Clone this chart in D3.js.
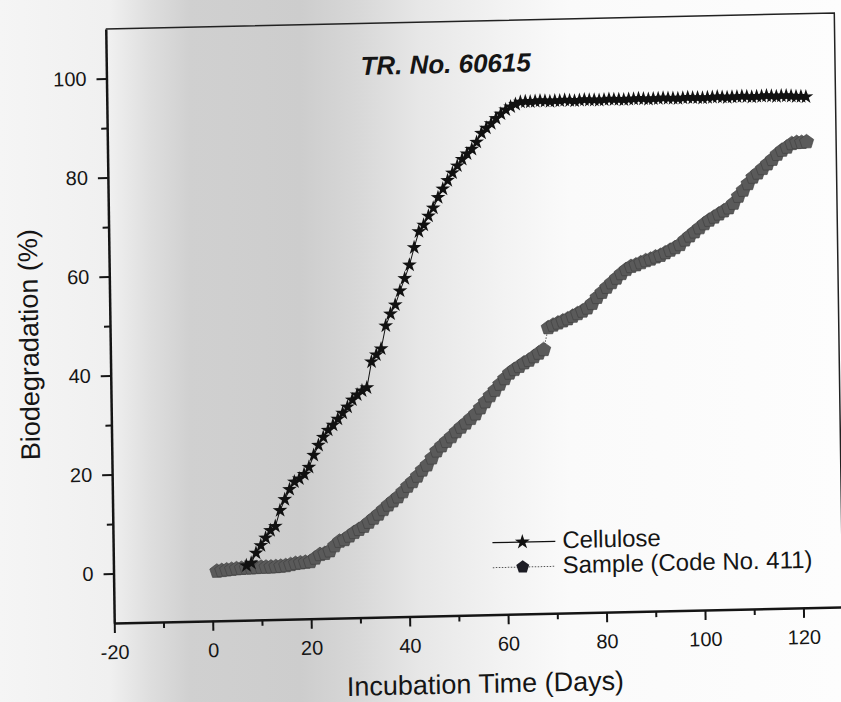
<!DOCTYPE html>
<html>
<head>
<meta charset="utf-8">
<script src="https://cdn.jsdelivr.net/npm/d3@7"></script>
<style>
body { margin: 0; background: #fff; }
/* grey shading of the scanned page */
#chart {
	width: 841px; height: 702px;
	background: linear-gradient(to right, #f5f5f5 0px, #f0f0f0 110px, #dedede 150px, #d0d0d0 190px,
		#cdcdcd 300px, #d7d7d7 355px, #e7e7e7 420px, #f3f3f3 505px, #fafafa 570px, #fdfdfd 841px);
}
svg { display: block; }
svg text { font-family: "Liberation Sans", Arial, sans-serif; fill: #151515; }
.axis text { font-size: 20px; }
.axis .domain { stroke: #151515; stroke-width: 2.5; }
.axis .tick line { stroke: #151515; stroke-width: 2; }
</style>
</head>
<body>
<div id="chart"></div>
<script>
// incubation day of each reading
var sample_days = [
  1, 2, 3, 4, 5, 6, 7, 8, 9, 10,
  11, 12, 13, 14, 15, 16, 17, 18, 19, 20,
  21, 22, 23, 24, 25, 26, 27, 28, 29, 30,
  31, 32, 33, 34, 35, 36, 37, 38, 39, 40,
  41, 42, 43, 44, 45, 46, 47, 48, 49, 50,
  51, 52, 53, 54, 55, 56, 57, 58, 59, 60,
  61, 62, 63, 64, 65, 66, 67, 68, 69, 70,
  71, 72, 73, 74, 75, 76, 77, 78, 79, 80,
  81, 82, 83, 84, 85, 86, 87, 88, 89, 90,
  91, 92, 93, 94, 95, 96, 97, 98, 99, 100,
  101, 102, 103, 104, 105, 106, 107, 108, 109, 110,
  111, 112, 113, 114, 115, 116, 117, 118, 119, 120,
  121, 122
];

// biodegradation (%)
var sample = [
  0.0, 0.1, 0.2, 0.3, 0.4, 0.45, 0.5, 0.5, 0.55, 0.6,
  0.6, 0.6, 0.65, 0.7, 0.8, 1.0, 1.2, 1.3, 1.4, 1.5,
  2.2, 2.9, 3.1, 3.6, 4.6, 5.5, 5.8, 6.5, 7.2, 7.8,
  8.4, 9.2, 10.0, 10.8, 11.7, 12.6, 13.4, 14.2, 15.2, 16.3,
  17.2, 18.3, 19.5, 20.5, 21.9, 23.3, 24.3, 25.2, 26.1, 27.1,
  28.0, 28.8, 29.7, 30.6, 31.8, 33.0, 34.2, 35.3, 36.5, 37.6,
  38.7, 39.4, 40.0, 40.7, 41.2, 41.9, 42.6, 43.3, 47.7, 48.2,
  48.6, 49.0, 49.4, 49.9, 50.4, 50.9, 51.5, 52.4, 53.6, 54.6,
  55.6, 56.5, 57.4, 58.3, 59.1, 59.7, 60.0, 60.4, 60.8, 61.1,
  61.5, 61.8, 62.3, 62.8, 63.3, 63.9, 64.8, 65.6, 66.4, 67.2,
  68.0, 68.7, 69.3, 69.9, 70.5, 71.1, 72.0, 73.4, 74.6, 75.9,
  77.2, 78.0, 78.9, 79.8, 80.7, 81.7, 82.5, 83.1, 83.8, 84.0,
  84.0, 84.1
];

var cellulose_days = [
  7, 8, 9, 10,
  11, 12, 13, 14, 15, 16, 17, 18, 19, 20,
  21, 22, 23, 24, 25, 26, 27, 28, 29, 30,
  31, 32, 33, 34, 35, 36, 37, 38, 39, 40,
  41, 42, 43, 44, 45, 46, 47, 48, 49, 50,
  51, 52, 53, 54, 55, 56, 57, 58, 59, 60,
  61, 62, 63, 64, 65, 66, 67, 68, 69, 70,
  71, 72, 73, 74, 75, 76, 77, 78, 79, 80,
  81, 82, 83, 84, 85, 86, 87, 88, 89, 90,
  91, 92, 93, 94, 95, 96, 97, 98, 99, 100,
  101, 102, 103, 104, 105, 106, 107, 108, 109, 110,
  111, 112, 113, 114, 115, 116, 117, 118, 119, 120,
  121, 122
];

var cellulose = [
  1.0, 1.5, 3.5, 5.0,
  6.5, 8.0, 8.8, 12.0, 14.2, 16.2, 17.7, 18.3, 19.2, 20.6,
  23.0, 25.0, 26.6, 28.0, 29.0, 30.2, 31.4, 32.6, 34.0, 35.0,
  35.8, 36.4, 41.6, 43.0, 44.2, 48.8, 51.2, 53.0, 55.8, 58.3,
  61.0, 64.5, 67.7, 69.0, 70.8, 72.4, 74.5, 76.2, 77.9, 79.4,
  80.8, 82.1, 83.2, 84.1, 85.5, 87.3, 88.3, 89.2, 90.2, 91.1,
  91.9, 92.5, 93.0, 93.4, 93.5, 93.4, 93.5, 93.6, 93.5, 93.4,
  93.5, 93.5, 93.6, 93.5, 93.4, 93.5, 93.6, 93.5, 93.5, 93.4,
  93.5, 93.6, 93.5, 93.5, 93.4, 93.5, 93.5, 93.6, 93.5, 93.4,
  93.5, 93.5, 93.6, 93.5, 93.5, 93.4, 93.5, 93.6, 93.5, 93.5,
  93.4, 93.5, 93.5, 93.6, 93.5, 93.4, 93.5, 93.5, 93.6, 93.5,
  93.4, 93.5, 93.5, 93.6, 93.5, 93.4, 93.5, 93.5, 93.4, 93.3,
  93.3, 93.2
];

var x_ticks = [-20, 0, 20, 40, 60, 80, 100, 120];
var x_minor = [-10, 10, 30, 50, 70, 90, 110];
var y_ticks = [0, 20, 40, 60, 80, 100];
var y_minor = [10, 30, 50, 70, 90];

var series_names = ['Cellulose', 'Sample (Code No. 411)'];

var W = 730, H = 594;

var svg = d3.select('#chart').append('svg')
	.attr('width', 841)
	.attr('height', 702)

/* the page sits a little crooked on the scanner */
var plot = svg.append('g')
	.attr('transform', 'matrix(0.998,-0.0219,0.0143,1,105.75,29)')

var x = d3.scaleLinear().domain([-20, 128]).range([0, W])
var y = d3.scaleLinear().domain([-10, 110]).range([H, 0])

// thin top / right frame
plot.append('path')
	.attr('d', 'M0,0H' + W + 'V' + H)
	.attr('fill', 'none')
	.attr('stroke', '#222')
	.attr('stroke-width', 1.5)

var label = function(d) { return String(d) }

plot.append('g').attr('class', 'axis')
	.attr('transform', 'translate(0,' + H + ')')
	.call(d3.axisBottom(x).tickValues(x_minor).tickSize(6).tickFormat(''))
	.call(function(g) { g.select('.domain').remove() })

plot.append('g').attr('class', 'axis')
	.attr('transform', 'translate(0,' + H + ')')
	.call(d3.axisBottom(x).tickValues(x_ticks).tickSize(10).tickSizeOuter(0).tickPadding(12).tickFormat(label))

plot.append('g').attr('class', 'axis')
	.call(d3.axisLeft(y).tickValues(y_minor).tickSize(6).tickFormat(''))
	.call(function(g) { g.select('.domain').remove() })

plot.append('g').attr('class', 'axis')
	.call(d3.axisLeft(y).tickValues(y_ticks).tickSize(10).tickSizeOuter(0).tickPadding(10).tickFormat(label))

var pentagon = {
	draw: function(context, size) {
		var r = Math.sqrt(size / 2.3776);
		for (var i = 0; i < 5; i++) {
			var a = -Math.PI / 2 + i * 2 * Math.PI / 5;
			if (i === 0) context.moveTo(r * Math.cos(a), r * Math.sin(a));
			else context.lineTo(r * Math.cos(a), r * Math.sin(a));
		}
		context.closePath();
	}
};

var sample_pts = sample_days.map(function(d, i) { return {day: d, value: sample[i]} })
var cellulose_pts = cellulose_days.map(function(d, i) { return {day: d, value: cellulose[i]} })

var line = d3.line()
	.x(function(d) { return x(d.day) })
	.y(function(d) { return y(d.value) })

// sample
plot.append('path').datum(sample_pts)
	.attr('d', line)
	.attr('fill', 'none')
	.attr('stroke', '#555')
	.attr('stroke-width', 1)
	.attr('stroke-dasharray', '1.5,1.5')

plot.append('g').selectAll('path')
	.data(sample_pts)
	.enter().append('path')
	.attr('transform', function(d) { return 'translate(' + x(d.day) + ',' + y(d.value) + ')' })
	.attr('d', d3.symbol().type(pentagon).size(134))
	.attr('fill', '#5a5a5a')
	.attr('stroke', '#3e3e3e')
	.attr('stroke-width', 0.6)

// cellulose
plot.append('path').datum(cellulose_pts)
	.attr('d', line)
	.attr('fill', 'none')
	.attr('stroke', '#111')
	.attr('stroke-width', 1)

plot.append('g').selectAll('path')
	.data(cellulose_pts)
	.enter().append('path')
	.attr('transform', function(d) { return 'translate(' + x(d.day) + ',' + y(d.value) + ')' })
	.attr('d', d3.symbol().type(d3.symbolStar).size(68))
	.attr('fill', '#111')

// legend
var legend = plot.append('g').attr('transform', 'translate(380,522)')
legend.append('line').attr('x1', 0).attr('x2', 63).attr('y1', 0).attr('y2', 0)
	.attr('stroke', '#111').attr('stroke-width', 1.2)
legend.append('path').attr('transform', 'translate(30,0)')
	.attr('d', d3.symbol().type(d3.symbolStar).size(70)).attr('fill', '#111')
legend.append('line').attr('x1', 0).attr('x2', 63).attr('y1', 25).attr('y2', 25)
	.attr('stroke', '#555').attr('stroke-width', 1).attr('stroke-dasharray', '1.5,1.5')
legend.append('path').attr('transform', 'translate(30,25)')
	.attr('d', d3.symbol().type(pentagon).size(110)).attr('fill', '#1c1c24')
legend.selectAll('text.lg')
	.data(series_names)
	.enter().append('text').attr('class', 'lg')
	.attr('x', 70)
	.attr('y', function(d, i) { return 7 + i * 25 })
	.style('font-size', '24px')
	.text(function(d) { return d })

// titles
plot.append('text')
	.attr('x', 340).attr('y', 51.5)
	.attr('text-anchor', 'middle')
	.style('font-size', '26px').style('font-weight', 'bold').style('font-style', 'italic')
	.text('TR. No. 60615')

plot.append('text')
	.attr('x', 371).attr('y', 672)
	.attr('text-anchor', 'middle')
	.style('font-size', '27px')
	.text('Incubation Time (Days)')

plot.append('text')
	.attr('transform', 'translate(-72,314) rotate(-90)')
	.attr('text-anchor', 'middle')
	.style('font-size', '27px')
	.text('Biodegradation (%)')
</script>
</body>
</html>
